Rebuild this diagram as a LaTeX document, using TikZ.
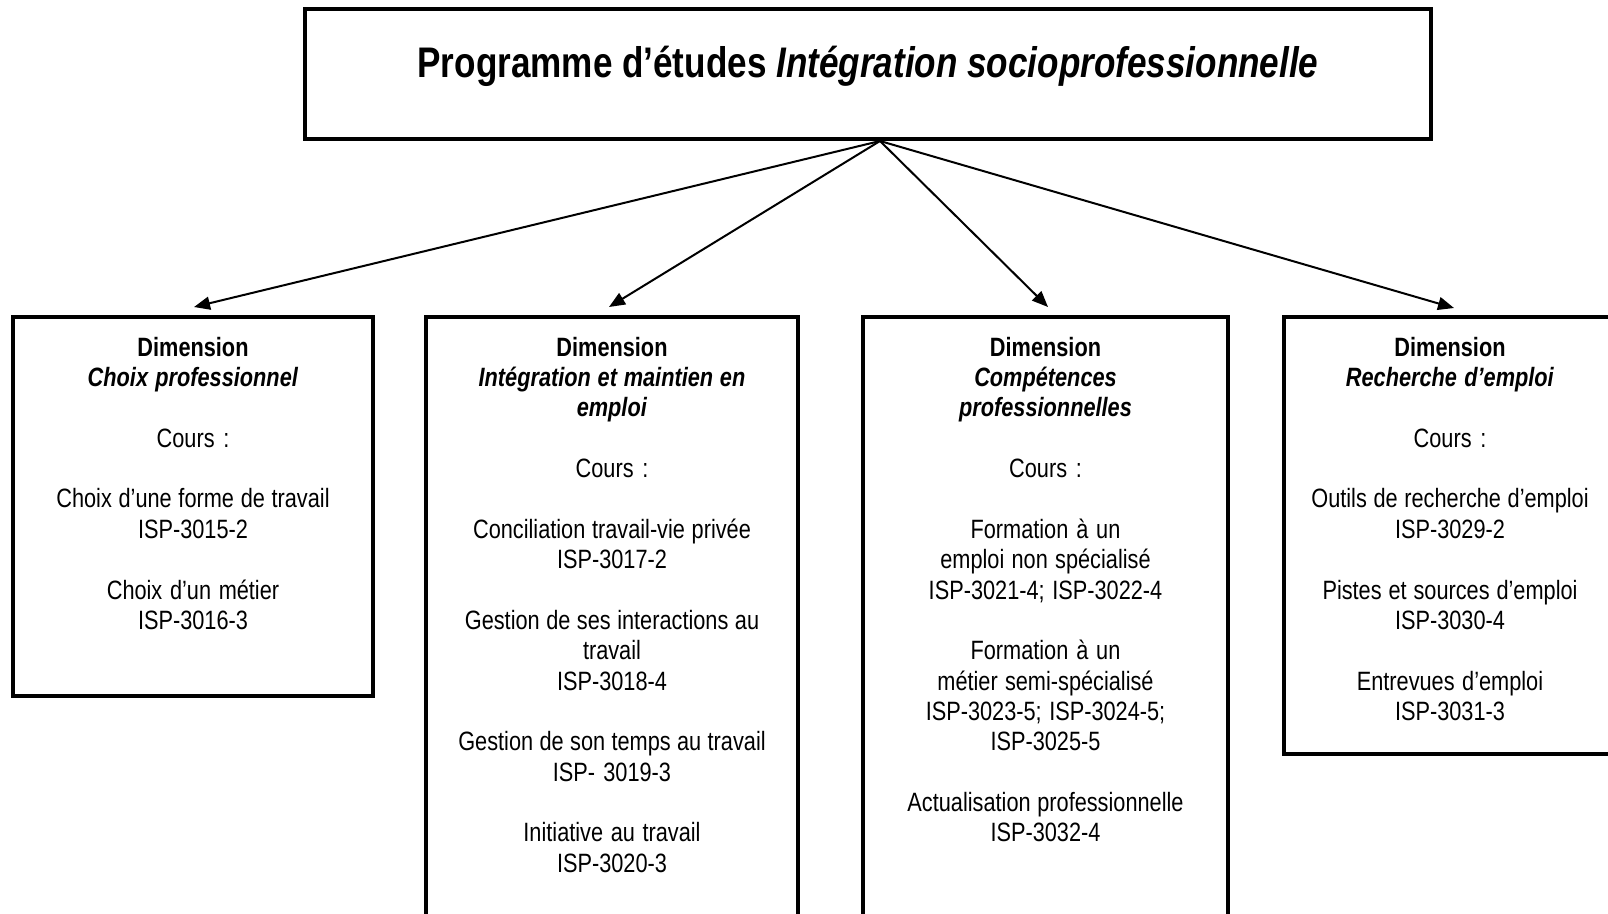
\documentclass[tikz,border=0pt]{standalone}
\usepackage{fontspec}
\setmainfont{Liberation Sans}[FakeStretch=0.82]
\usetikzlibrary{arrows.meta,calc}
\tikzset{
  boxframe/.style={draw=black, line width=4pt, rectangle, inner sep=0pt},
  boxtext/.style={anchor=north, inner sep=0pt, align=center, text width=350pt,
    font=\fontsize{26.5pt}{30.35pt}\selectfont},
  titletext/.style={anchor=base, inner sep=0pt, font=\fontsize{42.8pt}{50pt}\selectfont\bfseries},
  conn/.style={draw=black, line width=2pt, -{Triangle[length=16pt,width=13pt]}},
}
\newcommand{\blankln}{\\[30.35pt]}
\newcommand{\firstln}{\spaceskip=6pt plus 1pt minus 1pt\relax\rule{0pt}{20pt}}
\begin{document}
\begin{tikzpicture}[x=1pt,y=-1pt]
\path[use as bounding box, fill=white] (0,0) rectangle (1608,913);

% top box
\node[boxframe, minimum width=1126pt, minimum height=130pt] (top) at (868,74) {};
\node[titletext] (title) at (868,77) {Programme d’études \textit{Intégration socioprofessionnelle}};

% dimension boxes
\node[boxframe, minimum width=360pt, minimum height=379pt] (b1) at (193,506.5) {};
\node[boxframe, minimum width=372pt, minimum height=623pt] (b2) at (612,628.5) {};
\node[boxframe, minimum width=365pt, minimum height=623pt] (b3) at (1045.5,628.5) {};
\node[boxframe, minimum width=332pt, minimum height=437pt] (b4) at (1450,535.5) {};

\node[boxtext] (t1) at (193,336) {\firstln\textbf{Dimension}\\
\textbf{\textit{Choix professionnel}}\blankln
Cours :\blankln
Choix d’une forme de travail\\ ISP-3015-2\blankln
Choix d’un métier\\ ISP-3016-3};

\node[boxtext] (t2) at (612,336) {\firstln\textbf{Dimension}\\
\textbf{\textit{Intégration et maintien en}}\\
\textbf{\textit{emploi}}\blankln
Cours :\blankln
Conciliation travail-vie privée\\ ISP-3017-2\blankln
Gestion de ses interactions au\\ travail\\ ISP-3018-4\blankln
Gestion de son temps au travail\\ ISP- 3019-3\blankln
Initiative au travail\\ ISP-3020-3};

\node[boxtext] (t3) at (1045.5,336) {\firstln\textbf{Dimension}\\
\textbf{\textit{Compétences}}\\
\textbf{\textit{professionnelles}}\blankln
Cours :\blankln
Formation à un\\ emploi non spécialisé\\ ISP-3021-4; ISP-3022-4\blankln
Formation à un\\ métier semi-spécialisé\\ ISP-3023-5; ISP-3024-5;\\ ISP-3025-5\blankln
Actualisation professionnelle\\ ISP-3032-4};

\node[boxtext] (t4) at (1450,336) {\firstln\textbf{Dimension}\\
\textbf{\textit{Recherche d’emploi}}\blankln
Cours :\blankln
Outils de recherche d’emploi\\ ISP-3029-2\blankln
Pistes et sources d’emploi\\ ISP-3030-4\blankln
Entrevues d’emploi\\ ISP-3031-3};

% connectors
\coordinate (hub) at ($(top.south)+(12,0)$);
\coordinate (tip1) at (194,307);
\coordinate (tip2) at (609,307);
\coordinate (tip3) at (1048,307);
\coordinate (tip4) at (1454,308);
\draw[conn] (hub) -- (tip1);
\draw[conn] (hub) -- (tip2);
\draw[conn] (hub) -- (tip3);
\draw[conn] (hub) -- (tip4);
\end{tikzpicture}
\end{document}
